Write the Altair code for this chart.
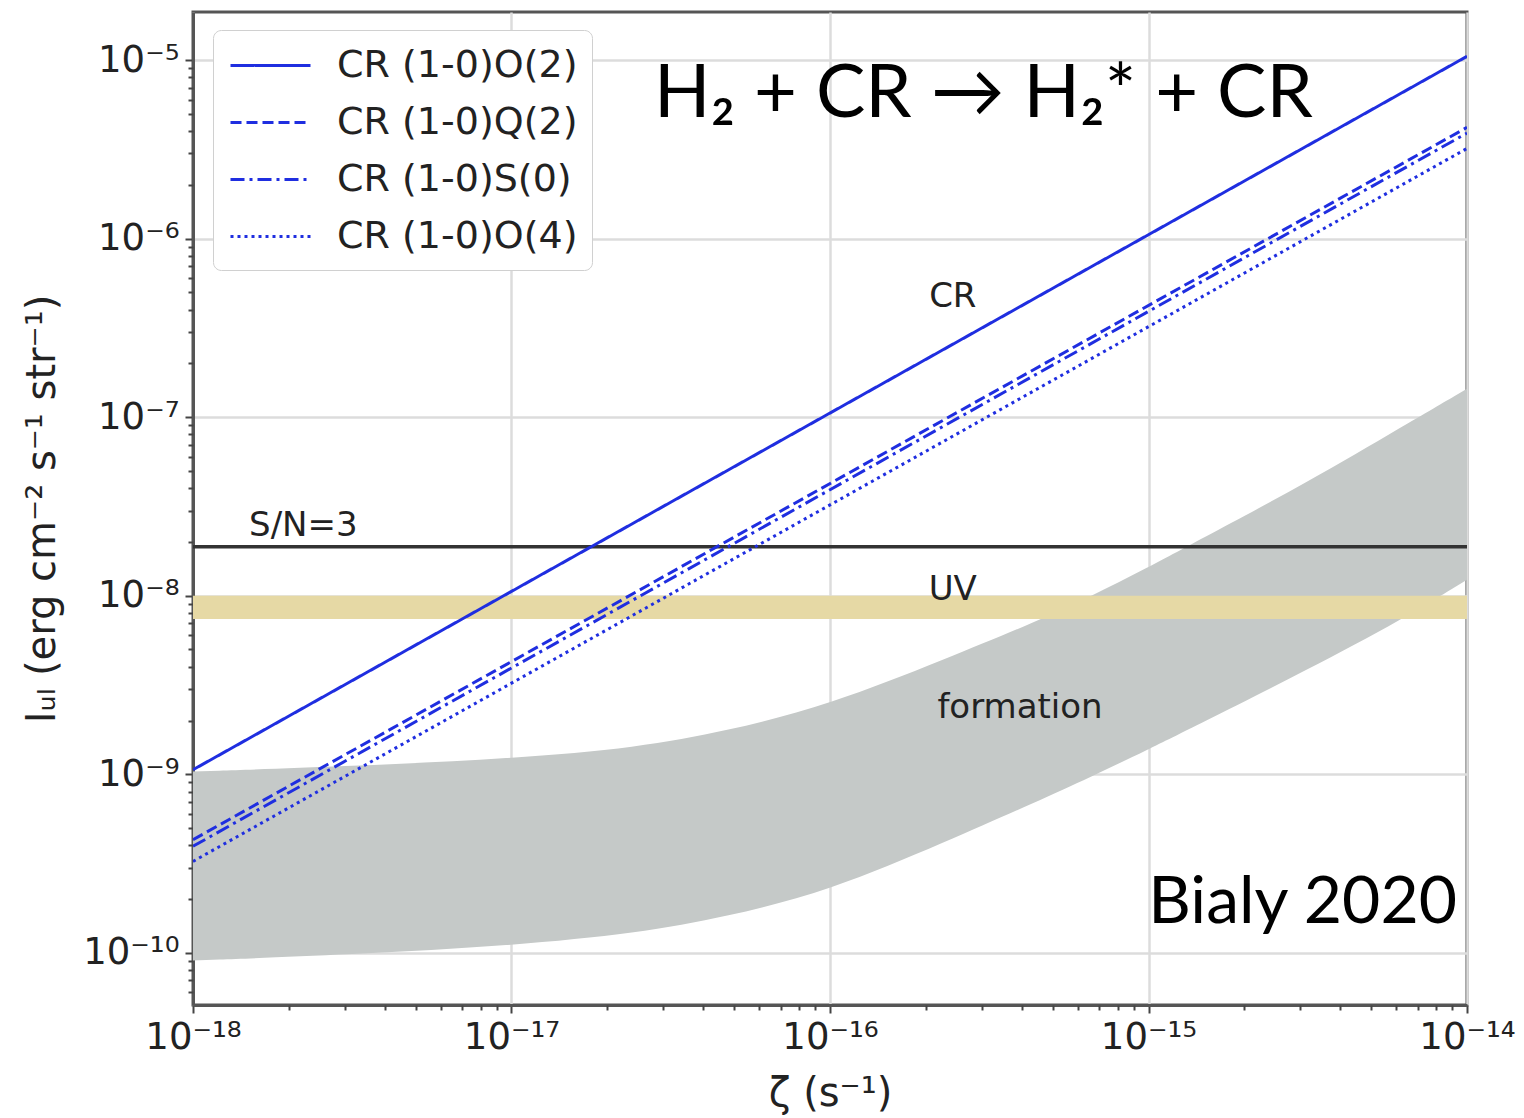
import math
import altair as alt
import pandas as pd

# ---- data ----
zeta_ends = [1e-18, 1e-14]
series_names = ["CR (1-0)O(2)", "CR (1-0)Q(2)", "CR (1-0)S(0)", "CR (1-0)O(4)"]
line_o2 = [1.06e-9, 1.05e-5]
line_q2 = [4.3e-10, 4.2e-6]
line_s0 = [3.95e-10, 3.9e-6]
line_o4 = [3.25e-10, 3.2e-6]

form_zeta = [1e-18, 3.16e-18, 1e-17, 2.5e-17, 4.7e-17, 1e-16, 2.3e-16, 4.5e-16,
             6.5e-16, 1e-15, 1.4e-15, 3.2e-15, 6.3e-15, 1e-14]
form_lo = [9.04e-11, 9.77e-11, 1.096e-10, 1.288e-10, 1.585e-10, 2.228e-10, 4.169e-10, 7.079e-10,
           9.55e-10, 1.380e-9, 1.862e-9, 3.890e-9, 7.413e-9, 1.230e-8]
form_hi = [1.035e-9, 1.109e-9, 1.222e-9, 1.413e-9, 1.738e-9, 2.455e-9, 4.416e-9, 7.244e-9,
           9.772e-9, 1.445e-8, 1.995e-8, 4.365e-8, 8.913e-8, 1.445e-7]

uv_band = [7.4e-9, 1.0e-8]
sn3_level = [1.88e-8]

x_ticks = [1e-18, 1e-17, 1e-16, 1e-15, 1e-14]
x_tick_labels = ["10⁻¹⁸", "10⁻¹⁷", "10⁻¹⁶", "10⁻¹⁵", "10⁻¹⁴"]
y_ticks = [1e-10, 1e-9, 1e-8, 1e-7, 1e-6, 1e-5]
y_tick_labels = ["10⁻¹⁰", "10⁻⁹", "10⁻⁸", "10⁻⁷", "10⁻⁶", "10⁻⁵"]
minor_mult = [2, 3, 4, 5, 6, 7, 8, 9]
x_minor_ticks = [m * d for d in [1e-18, 1e-17, 1e-16, 1e-15] for m in minor_mult]
y_minor_ticks = [m * d for d in [1e-11, 1e-10, 1e-9, 1e-8, 1e-7, 1e-6, 1e-5] for m in minor_mult
                 if 5.1e-11 < m * d < 1.86e-5]

# annotations: text, x, y
ann_center = [("CR", 2.43e-16, 4.7e-7), ("UV", 2.43e-16, 1.07e-8), ("formation", 3.95e-16, 2.35e-9)]
ann_left = [("S/N=3", 1.5e-18, 2.45e-8)]
ann_title = [("H₂ + CR → H₂* + CR", 2.8e-17, 6.4e-6)]
ann_credit = [("Bialy 2020", 9.3e-15, 1.9e-10)]

BLUE = "#1f2ee0"

# ---- tables ----
rows = []
for name, vals in zip(series_names, [line_o2, line_q2, line_s0, line_o4]):
    for z, v in zip(zeta_ends, vals):
        rows.append({"series": name, "zeta": z, "I": v})
lines_df = pd.DataFrame(rows)
form_df = pd.DataFrame({"zeta": form_zeta, "lo": form_lo, "hi": form_hi})
uv_df = pd.DataFrame({"y1": [uv_band[0]], "y2": [uv_band[1]]})
sn_df = pd.DataFrame({"y": sn3_level})


def ann_df(items):
    return pd.DataFrame([{"text": t, "zeta": x, "I": y} for t, x, y in items])


def label_expr(vals, labels):
    expr = "''"
    for v, lab in reversed(list(zip(vals, labels))):
        expr = f"abs(log(datum.value)/LN10 - ({round(math.log10(v))})) < 0.01 ? '{lab}' : " + expr
    return expr


x_scale = alt.Scale(type="log", domain=[1e-18, 1e-14], nice=False)
y_scale = alt.Scale(type="log", domain=[5.1e-11, 1.86e-5], nice=False)

x_axis = alt.Axis(values=x_ticks, labelExpr=label_expr(x_ticks, x_tick_labels),
                  title="ζ (s⁻¹)", grid=True, orient="bottom", labelFlush=False)
y_axis = alt.Axis(values=y_ticks, labelExpr=label_expr(y_ticks, y_tick_labels),
                  title="Iᵤₗ (erg cm⁻² s⁻¹ str⁻¹)", grid=True, orient="left", labelFlush=False)
x_minor_axis = alt.Axis(values=x_minor_ticks, labels=False, grid=False, domain=False,
                        title=None, tickSize=5, orient="bottom")
y_minor_axis = alt.Axis(values=y_minor_ticks, labels=False, grid=False, domain=False,
                        title=None, tickSize=5, orient="left")

formation = alt.Chart(form_df).mark_area(color="#c5c9c8", opacity=1, clip=True,
                                         interpolate="basis").encode(
    x=alt.X("zeta:Q", scale=x_scale, axis=x_axis),
    y=alt.Y("lo:Q", scale=y_scale, axis=y_axis),
    y2="hi:Q",
)

minor_x = alt.Chart(form_df).mark_point(opacity=0).encode(
    x=alt.X("zeta:Q", scale=x_scale, axis=x_minor_axis),
    y=alt.Y("lo:Q", scale=y_scale, axis=None),
)
minor_y = alt.Chart(form_df).mark_point(opacity=0).encode(
    x=alt.X("zeta:Q", scale=x_scale, axis=None),
    y=alt.Y("lo:Q", scale=y_scale, axis=y_minor_axis),
)

uv = alt.Chart(uv_df).mark_rect(color="#e6d9a5", clip=True).encode(
    y=alt.Y("y1:Q", scale=y_scale, axis=None), y2="y2:Q"
)

sn = alt.Chart(sn_df).mark_rule(color="#333333", strokeWidth=3.5, clip=True).encode(
    y=alt.Y("y:Q", scale=y_scale, axis=None)
)

lines = alt.Chart(lines_df).mark_line(color=BLUE, strokeWidth=3, clip=True).encode(
    x=alt.X("zeta:Q", scale=x_scale, axis=None),
    y=alt.Y("I:Q", scale=y_scale, axis=None),
    strokeDash=alt.StrokeDash(
        "series:N",
        scale=alt.Scale(domain=series_names,
                        range=[[1, 0], [11, 5], [14, 5, 3, 5], [3, 4]]),
        sort=series_names,
        legend=alt.Legend(
            title=None, orient="none", legendX=20, legendY=18,
            symbolType="M-2,0H2", symbolSize=1600, symbolStrokeWidth=3,
            symbolStrokeColor=BLUE, symbolFillColor="transparent", symbolOffset=22,
            labelFont="DejaVu Sans", labelFontSize=38,
            labelColor="#222222", labelOffset=45, rowPadding=16,
            fillColor="white", strokeColor="#d0d0d0", cornerRadius=8, padding=14,
            labelLimit=400,
        ),
    ),
    detail="series:N",
)


def text_layer(items, font, size, align, color="#222222"):
    return alt.Chart(ann_df(items)).mark_text(
        font=font, fontSize=size, color=color, baseline="middle", align=align
    ).encode(x=alt.X("zeta:Q", scale=x_scale, axis=None),
             y=alt.Y("I:Q", scale=y_scale, axis=None), text="text:N")


txt_center = text_layer(ann_center, "DejaVu Sans", 34, "center")
txt_left = text_layer(ann_left, "DejaVu Sans", 34, "left")
txt_title = text_layer(ann_title, "Lato", 74, "left", "black")
txt_credit = text_layer(ann_credit, "Lato", 66, "right", "black")

chart = alt.layer(formation, minor_x, minor_y, uv, sn, lines,
                  txt_center, txt_left, txt_title, txt_credit).resolve_axis(
    x="independent", y="independent"
).properties(
    width=1274, height=993,
    padding={"left": 193, "top": 12, "right": 57, "bottom": 113},
    autosize=alt.AutoSizeParams(type="none"),
    background="white",
).configure_view(
    stroke="#555555", strokeWidth=3
).configure_axis(
    labelFont="DejaVu Sans", labelFontSize=37, labelColor="#222222",
    titleFont="DejaVu Sans", titleFontSize=40, titleColor="#222222", titleFontWeight="normal",
    gridColor="#dcdcdc", gridWidth=2.5, tickColor="#444444", tickSize=8, tickWidth=2,
    domainColor="#555555", domainWidth=3, labelPadding=6,
).configure_axisX(titlePadding=18).configure_axisY(titlePadding=20)

chart.save("out.html", embed_options={"renderer": "svg", "actions": False})
